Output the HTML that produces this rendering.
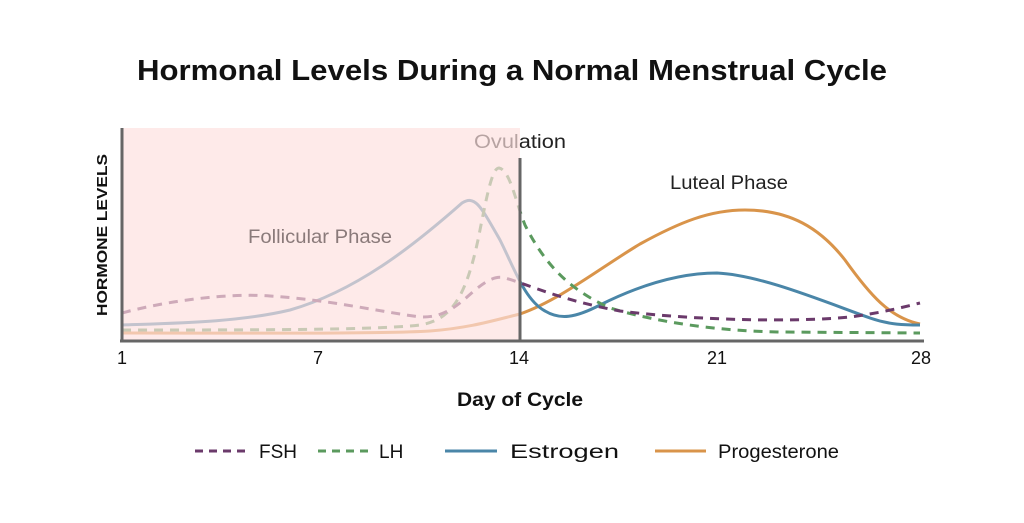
<!DOCTYPE html>
<html><head><meta charset="utf-8"><style>
body{margin:0;background:#fff;}
svg{display:block;font-family:"Liberation Sans",sans-serif;}
</style></head><body>
<svg width="1024" height="523" viewBox="0 0 1024 523">
<rect width="1024" height="523" fill="#fff"/>
<text x="512" y="80" text-anchor="middle" font-size="29" font-weight="bold" fill="#111" textLength="750" lengthAdjust="spacingAndGlyphs">Hormonal Levels During a Normal Menstrual Cycle</text>
<g fill="none" stroke-width="3">
<path d="M122,333 C250,333 380,334 430,331 C470,328 495,320 520,314 C560,300 600,268 640,244 C680,222 710,210 745,210 C790,210 820,228 845,260 C870,295 890,318 920,324" stroke="#d9944a"/>
<path d="M122,325 C180,323 240,322 290,310 C360,290 420,240 462,203 C475,195 480,205 500,240 C515,270 525,300 545,311 C560,320 575,318 600,305 C640,285 680,273 717,273 C760,275 820,300 870,318 C890,325 905,325 920,325" stroke="#4a86a8"/>
<path d="M122,330 C250,330 380,330 420,325 C450,320 465,300 478,240 C487,195 492,168 499,168 C510,170 515,200 525,225 C545,265 570,290 610,308 C660,323 720,331 780,332 L920,333" stroke="#5b9a5e" stroke-dasharray="9,7"/>
<path d="M122,313 C170,300 230,293 270,296 C330,300 370,310 420,317 C445,318 458,305 475,290 C485,282 495,275 505,278 C530,285 560,300 620,311 C700,321 800,322 850,317 C880,313 900,308 920,303" stroke="#6b3a6b" stroke-dasharray="9,7"/>
</g>
<text x="474" y="148" font-size="19" fill="#222" textLength="92" lengthAdjust="spacingAndGlyphs">Ovulation</text>
<rect x="122" y="128" width="398" height="213" fill="#fde0de" opacity="0.68"/>
<line x1="520" y1="158" x2="520" y2="342" stroke="#666" stroke-width="3"/>
<line x1="122" y1="128" x2="122" y2="342" stroke="#666" stroke-width="3"/>
<line x1="120" y1="341" x2="924" y2="341" stroke="#666" stroke-width="3"/>
<text x="320" y="243" text-anchor="middle" font-size="19" fill="#8a7a7a" textLength="144" lengthAdjust="spacingAndGlyphs">Follicular Phase</text>
<text x="729" y="189" text-anchor="middle" font-size="19" fill="#222" textLength="118" lengthAdjust="spacingAndGlyphs">Luteal Phase</text>
<text transform="translate(107,235) rotate(-90)" text-anchor="middle" font-size="15" font-weight="bold" fill="#111" textLength="162" lengthAdjust="spacingAndGlyphs">HORMONE LEVELS</text>
<g font-size="18" fill="#111" text-anchor="middle">
<text x="122" y="364">1</text><text x="318" y="364">7</text><text x="519" y="364">14</text><text x="717" y="364">21</text><text x="921" y="364">28</text>
</g>
<text x="520" y="406" text-anchor="middle" font-size="19" font-weight="bold" fill="#111" textLength="126" lengthAdjust="spacingAndGlyphs">Day of Cycle</text>
<g stroke-width="3">
<line x1="195" y1="451" x2="245" y2="451" stroke="#6b3a6b" stroke-dasharray="8,6"/>
<line x1="318" y1="451" x2="370" y2="451" stroke="#5b9a5e" stroke-dasharray="8,6"/>
<line x1="445" y1="451" x2="497" y2="451" stroke="#4a86a8"/>
<line x1="655" y1="451" x2="706" y2="451" stroke="#d9944a"/>
</g>
<g font-size="19" fill="#111">
<text x="259" y="458">FSH</text><text x="379" y="458">LH</text><text x="510" y="458" textLength="109" lengthAdjust="spacingAndGlyphs">Estrogen</text><text x="718" y="458" textLength="121" lengthAdjust="spacingAndGlyphs">Progesterone</text>
</g>
</svg>
</body></html>
